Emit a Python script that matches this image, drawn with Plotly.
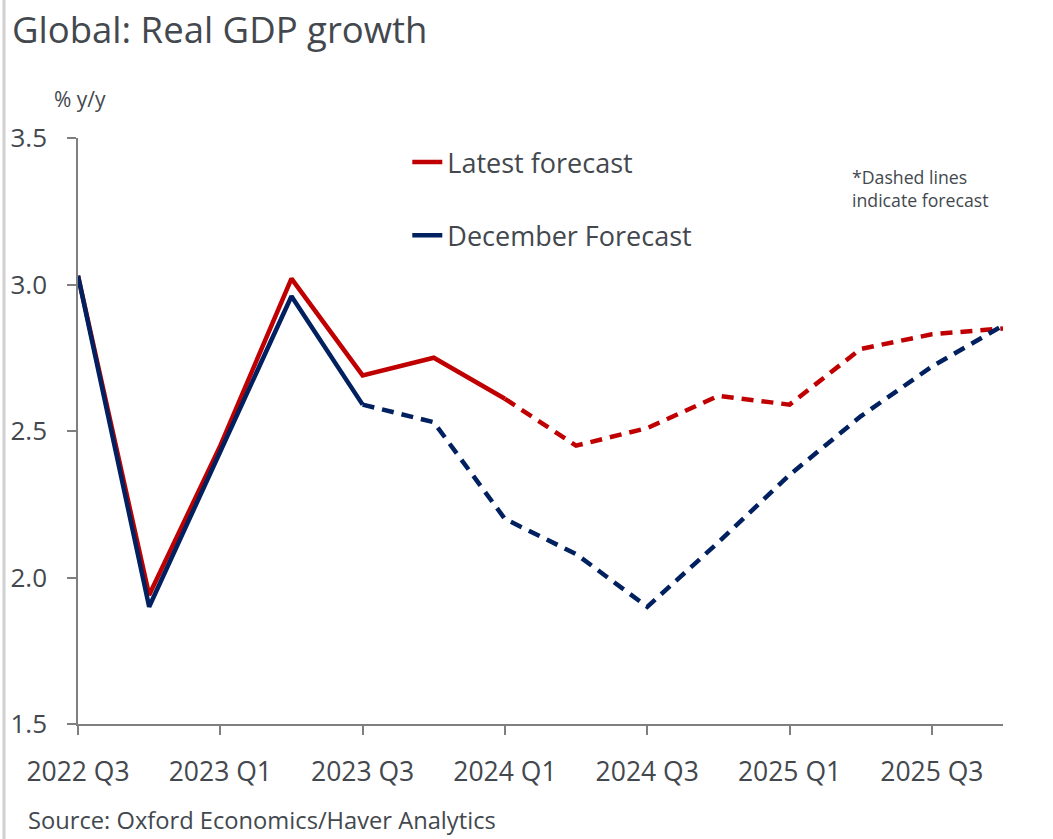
import plotly.graph_objects as go

quarters = ["2022 Q3", "2022 Q4", "2023 Q1", "2023 Q2", "2023 Q3", "2023 Q4", "2024 Q1",
            "2024 Q2", "2024 Q3", "2024 Q4", "2025 Q1", "2025 Q2", "2025 Q3", "2025 Q4"]
latest = [3.03, 1.94, 2.45, 3.02, 2.69, 2.75, 2.61, 2.45, 2.51, 2.62, 2.59, 2.78, 2.83, 2.85]
december = [3.03, 1.90, 2.43, 2.96, 2.59, 2.53, 2.20, 2.08, 1.90, 2.12, 2.35, 2.55, 2.72, 2.86]
latest_last_actual = "2024 Q1"
december_last_actual = "2023 Q3"
tick_labels = ["2022 Q3", "2023 Q1", "2023 Q3", "2024 Q1", "2024 Q3", "2025 Q1", "2025 Q3"]
y_ticks = [1.5, 2.0, 2.5, 3.0, 3.5]

RED = "#C00000"
NAVY = "#002060"
TXT = "#43484E"
FONT = "Open Sans"

fig = go.Figure()

def add_series(name, vals, split, color, group, show):
    i = quarters.index(split)
    fig.add_trace(go.Scatter(x=quarters[:i + 1], y=vals[:i + 1], mode="lines", name=name,
                             legendgroup=group, showlegend=show,
                             line=dict(color=color, width=4.5)))
    fig.add_trace(go.Scatter(x=quarters[i:], y=vals[i:], mode="lines", name=name,
                             legendgroup=group, showlegend=False,
                             line=dict(color=color, width=4.5, dash="12px,8px")))

add_series("Latest forecast", latest, latest_last_actual, RED, "a", True)
add_series("December Forecast", december, december_last_actual, NAVY, "b", True)

fig.update_layout(
    width=1053, height=839,
    margin=dict(l=78, r=50, t=138, b=115, autoexpand=False),
    paper_bgcolor="white", plot_bgcolor="white",
    font=dict(family=FONT, color=TXT),
    title=dict(text="Global: Real GDP growth", x=12 / 1053, xanchor="left",
               y=1 - 30 / 839, yanchor="middle",
               font=dict(size=36.5, color=TXT, family=FONT)),
    legend=dict(x=0.356, y=1.0, xanchor="left", yanchor="top",
                font=dict(size=27, color=TXT, family=FONT),
                traceorder="grouped", tracegroupgap=35, itemwidth=30,
                bgcolor="rgba(0,0,0,0)"),
    showlegend=True,
)

fig.update_xaxes(type="category", categoryorder="array", categoryarray=quarters,
                 range=[0, len(quarters) - 1], automargin=False,
                 tickmode="array", tickvals=tick_labels, ticktext=tick_labels,
                 showline=True, linecolor="#7F7F7F", linewidth=1.5,
                 ticks="outside", ticklen=9, tickcolor="#7F7F7F", tickwidth=1.5,
                 ticklabelstandoff=14,
                 tickfont=dict(size=26.5, color=TXT, family=FONT),
                 showgrid=False, zeroline=False)
fig.update_yaxes(range=[1.5, 3.5], tickmode="array", tickvals=y_ticks, automargin=False,
                 ticktext=[f"{v:.1f}" for v in y_ticks],
                 showline=True, linecolor="#7F7F7F", linewidth=1.5,
                 ticks="outside", ticklen=9, tickcolor="#7F7F7F", tickwidth=1.5,
                 ticklabelstandoff=15,
                 tickfont=dict(size=26, color=TXT, family=FONT),
                 showgrid=False, zeroline=False)

fig.add_annotation(text="% y/y", xref="paper", yref="paper",
                   x=(52 - 78) / 925, y=(724 - 99) / 586, xanchor="left", yanchor="middle",
                   showarrow=False, font=dict(size=21, color=TXT, family=FONT))
fig.add_annotation(text="*Dashed lines<br>indicate forecast", xref="paper", yref="paper",
                   x=(850 - 78) / 925, y=(724 - 188) / 586, xanchor="left", yanchor="middle",
                   align="left", showarrow=False,
                   font=dict(size=17.7, color=TXT, family=FONT))
fig.add_annotation(text="Source: Oxford Economics/Haver Analytics", xref="paper", yref="paper",
                   x=(26 - 78) / 925, y=(724 - 820) / 586, xanchor="left", yanchor="middle",
                   showarrow=False, font=dict(size=23.7, color=TXT, family=FONT))

# faint frame line on the left edge
fig.add_shape(type="line", xref="paper", yref="paper",
              x0=(4 - 78) / 925, x1=(4 - 78) / 925, y0=(724 - 0) / 586, y1=(724 - 839) / 586,
              line=dict(color="#D0D0D0", width=3))

fig.write_html("out.html", config={"displayModeBar": False},
               post_script="document.body.style.margin='0px';")
